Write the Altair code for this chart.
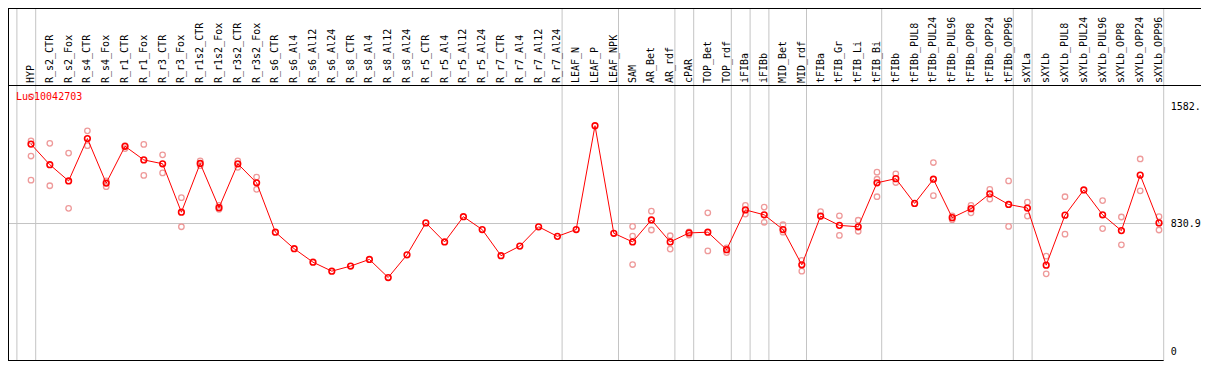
import altair as alt
import pandas as pd

# ---------------- data ----------------
samples = [
    "HYP", "R_s2_CTR", "R_s2_Fox", "R_s4_CTR", "R_s4_Fox", "R_r1_CTR", "R_r1_Fox",
    "R_r3_CTR", "R_r3_Fox", "R_r1s2_CTR", "R_r1s2_Fox", "R_r3s2_CTR", "R_r3s2_Fox",
    "R_s6_CTR", "R_s6_Al4", "R_s6_Al12", "R_s6_Al24", "R_s8_CTR", "R_s8_Al4",
    "R_s8_Al12", "R_s8_Al24", "R_r5_CTR", "R_r5_Al4", "R_r5_Al12", "R_r5_Al24",
    "R_r7_CTR", "R_r7_Al4", "R_r7_Al12", "R_r7_Al24", "LEAF_N", "LEAF_P", "LEAF_NPK",
    "SAM", "AR_Bet", "AR_rdf", "cPAR", "TOP_Bet", "TOP_rdf", "iFIBa", "iFIBb",
    "MID_Bet", "MID_rdf", "tFIBa", "tFIB_Gr", "tFIB_Li", "tFIB_Bi", "tFIBb",
    "tFIBb_PUL8", "tFIBb_PUL24", "tFIBb_PUL96", "tFIBb_OPP8", "tFIBb_OPP24",
    "tFIBb_OPP96", "sXYLa", "sXYLb", "sXYLb_PUL8", "sXYLb_PUL24", "sXYLb_PUL96",
    "sXYLb_OPP8", "sXYLb_OPP24", "sXYLb_OPP96",
]

means = [
    1344, 1211, 1106, 1380, 1092, 1330, 1242, 1217, 904, 1219, 933, 1217, 1094,
    775, 668, 581, 523, 556, 599, 482, 629, 835, 712, 875, 792, 623, 685, 810, 748,
    792, 1463, 768,
    712, 854, 712, 770, 775, 662, 919, 887, 792, 564, 879, 819, 810, 1094, 1121,
    961, 1117, 869, 927, 1023, 954, 931, 562, 885, 1048, 887, 785, 1144, 835,
]

replicates = [
    [1651, 1365, 1267, 1111], [1349, 1075], [1286, 929], [1430, 1334], [1106, 1069],
    [1334, 1315], [1342, 1142], [1275, 1158], [998, 810], [1236, 1205], [948, 923],
    [1236, 1194], [1131, 1052],
    [], [], [], [], [], [], [], [], [], [], [], [], [], [], [], [], [], [], [],
    [812, 750, 566], [911, 789], [752, 666], [777, 756], [900, 654], [673, 643],
    [948, 892], [937, 839], [823, 775], [593, 523], [908, 879], [881, 754],
    [852, 781], [1163, 1117, 1004], [1152, 1096], [], [1225, 1011], [881, 856],
    [948, 900], [1052, 989], [1106, 812], [969, 879], [620, 506], [1004, 762], [],
    [979, 798], [873, 693], [1248, 1042], [875, 789],
]

gene_title = "Lus10042703"
tick_values = [1582, 830.9, 0]
tick_labels = ["1582.", "830.9", "0"]
grid_value = 830.9
# group separators sit just after these samples ("" = before the first one)
group_ends = ["", "HYP", "R_r7_Al24", "LEAF_NPK", "AR_rdf", "cPAR", "TOP_rdf",
              "iFIBa", "iFIBb", "MID_rdf", "tFIB_Bi", "tFIBb_OPP96", "sXYLa",
              "sXYLb_OPP96"]

# ---------------- layout ----------------
W, H = 1193, 353
X0, DX = 23.0, 18.8          # pixel of first column, column pitch
PLOT_TOP, PLOT_BOTTOM = 77, 352
V_TOP, V_BOT = 1726, -51
FONT = "DejaVu Sans Mono"
RED = "#ff0000"
PINK = "#ee9a9a"
GRAY = "#c4c4c4"

xscale = alt.Scale(domain=[-X0 / DX, (W - X0) / DX], range=[0, W], nice=False, zero=False)
yscale = alt.Scale(domain=[V_BOT, V_TOP], range=[PLOT_BOTTOM, PLOT_TOP], nice=False, zero=False)

df_mean = pd.DataFrame({"i": list(range(len(samples))), "sample": samples, "v": means})
rep_rows = []
for idx, reps in enumerate(replicates):
    for r in reps:
        rep_rows.append({"i": idx, "v": r})
df_rep = pd.DataFrame(rep_rows)
sep_pos = [(samples.index(n) if n else -1) + 0.25 for n in group_ends]
df_sep = pd.DataFrame({"i": sep_pos})
df_ticks = pd.DataFrame({"v": tick_values, "label": tick_labels})
df_grid = pd.DataFrame({"v": [grid_value]})
df_title = pd.DataFrame({"t": [gene_title]})
one = pd.DataFrame({"a": [0]})

last_sep_px = X0 + DX * sep_pos[-1]

X = lambda f="i": alt.X(f"{f}:Q", scale=xscale, axis=None)
Y = lambda f="v": alt.Y(f"{f}:Q", scale=yscale, axis=None)

separators = alt.Chart(df_sep).mark_rule(color=GRAY, strokeWidth=1).encode(
    x=X(), y=alt.value(0), y2=alt.value(PLOT_BOTTOM)
)
grid = alt.Chart(df_grid).mark_rule(color=GRAY, strokeWidth=1).encode(
    y=Y(), x=alt.value(0), x2=alt.value(last_sep_px)
)
frame_top = alt.Chart(one).mark_rule(color="black", strokeWidth=1).encode(
    x=alt.value(0), x2=alt.value(W), y=alt.value(0.5)
)
frame_head = alt.Chart(one).mark_rule(color="black", strokeWidth=1).encode(
    x=alt.value(0), x2=alt.value(W), y=alt.value(PLOT_TOP + 0.5)
)
frame_left = alt.Chart(one).mark_rule(color="black", strokeWidth=1).encode(
    x=alt.value(0.5), y=alt.value(0), y2=alt.value(PLOT_BOTTOM + 1)
)
frame_bottom = alt.Chart(one).mark_rule(color="black", strokeWidth=1).encode(
    x=alt.value(0), x2=alt.value(last_sep_px), y=alt.value(PLOT_BOTTOM + 0.5)
)

labels = alt.Chart(df_mean).mark_text(
    angle=270, align="left", baseline="middle", font=FONT, fontSize=10, color="black"
).encode(x=X(), y=alt.value(PLOT_TOP - 2), text="sample:N")

reps = alt.Chart(df_rep).mark_point(
    shape="circle", filled=False, size=30, strokeWidth=1.3, color=PINK, opacity=1
).encode(x=X(), y=Y())

line = alt.Chart(df_mean).mark_line(color=RED, strokeWidth=1).encode(x=X(), y=Y())

mean_pts = alt.Chart(df_mean).mark_point(
    shape="circle", filled=False, size=32, strokeWidth=1.6, color=RED, opacity=1
).encode(x=X(), y=Y())

ticks = alt.Chart(df_ticks).mark_text(
    align="left", baseline="middle", font=FONT, fontSize=10, color="black"
).encode(y=Y(), x=alt.value(last_sep_px + 7), text="label:N")

title = alt.Chart(df_title).mark_text(
    align="left", baseline="middle", font=FONT, fontSize=10, color=RED
).encode(x=alt.value(8), y=alt.value(PLOT_TOP + 12), text="t:N")

chart = alt.layer(
    separators, grid, frame_top, frame_head, frame_left, frame_bottom,
    labels, reps, line, mean_pts, ticks, title
).properties(
    width=W, height=H, autosize=alt.AutoSizeParams(type="none"), padding=0
).configure_view(strokeWidth=0)

chart.save("out.html", embed_options={"renderer": "svg", "actions": False})
